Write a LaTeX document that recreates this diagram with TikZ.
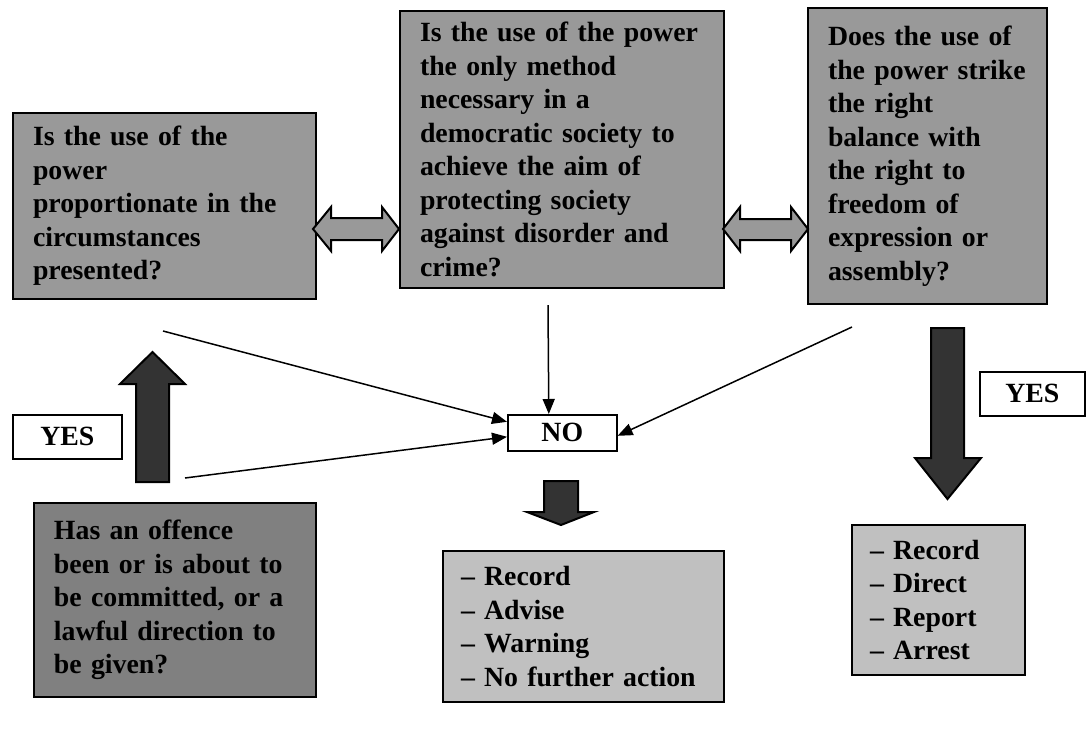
\documentclass[tikz,border=0pt]{standalone}
\usepackage{fontspec}
\setmainfont{Liberation Serif}
\usetikzlibrary{arrows.meta, positioning}
\definecolor{qgray}{RGB}{153,153,153}
\definecolor{askgray}{RGB}{128,128,128}
\definecolor{outgray}{RGB}{192,192,192}
\definecolor{fatgray}{RGB}{51,51,51}

\begin{document}
\begin{tikzpicture}[
  x=0.5pt, y=-0.5pt,
  every node/.style={font=\fontsize{13.9}{16.75}\selectfont\bfseries},
  qbox/.style={draw,line width=1pt,fill=qgray,anchor=north west,
    inner xsep=10pt,inner ysep=0pt,align=left},
  askbox/.style={qbox,fill=askgray},
  outbox/.style={qbox,fill=outgray,inner xsep=9pt},
  tagbox/.style={draw,line width=0.8pt,fill=white,anchor=north west,
    inner sep=0pt,align=center},
  fatarrow/.style={draw,line width=1pt,fill=fatgray,line join=miter},
  dblarrow/.style={draw,line width=1pt,fill=qgray,line join=miter},
  arr/.style={-{Triangle[length=7.5pt,width=6pt]},line width=0.75pt}
]
\useasboundingbox (0,0) rectangle (1087,729);

% question boxes
\node[qbox,minimum width=151.5pt,minimum height=93pt,text width=131.5pt]
  (prop) at (12,112)
  {Is the use of the\\power\\proportionate in the\\circumstances\\presented?};
\node[qbox,minimum width=162pt,minimum height=138.5pt,text width=142pt]
  (method) at (399,10)
  {Is the use of the power\\the only method\\necessary in a\\democratic society to\\achieve the aim of\\protecting society\\against disorder and\\crime?};
\node[qbox,minimum width=119.5pt,minimum height=148pt,text width=99.5pt]
  (balance) at (807,7)
  {Does the use of\\the power strike\\the right\\balance with\\the right to\\freedom of\\expression or\\assembly?};
\node[askbox,minimum width=141pt,minimum height=97pt,text width=121pt]
  (offence) at (33,502)
  {Has an offence\\been or is about to\\be committed, or a\\lawful direction to\\be given?};

% outcome boxes
\node[outbox,minimum width=140.5pt,minimum height=75.5pt,text width=122.5pt]
  (noact) at (442,550)
  {-- Record\\-- Advise\\-- Warning\\-- No further action};
\node[outbox,minimum width=86.5pt,minimum height=75pt,text width=68.5pt]
  (yesact) at (851,524)
  {-- Record\\-- Direct\\-- Report\\-- Arrest};

% answer tags
\node[tagbox,minimum width=54.5pt,minimum height=18pt] (no)     at (507,414) {NO};
\node[tagbox,minimum width=54.5pt,minimum height=22pt] (yesl)   at (12,414)  {YES};
\node[tagbox,minimum width=52.5pt,minimum height=22pt] (yesr)   at (979,371) {YES};

% double arrows between the questions
\draw[dblarrow] (313,229) -- (331,207) -- (331,218) -- (382,218) -- (382,207)
  -- (399,229) -- (382,251) -- (382,240) -- (331,240) -- (331,251) -- cycle;
\draw[dblarrow] (723,229) -- (740,207) -- (740,219) -- (791,219) -- (791,207)
  -- (808,229) -- (791,251) -- (791,240) -- (740,240) -- (740,251) -- cycle;

% fat arrows
\draw[fatarrow] (136,482) -- (136,384) -- (120,384) -- (152.5,352)
  -- (185,384) -- (169,384) -- (169,482) -- cycle;
\draw[fatarrow] (931,328) -- (931,458) -- (915,458) -- (947.5,499)
  -- (981,458) -- (964,458) -- (964,328) -- cycle;
\draw[fatarrow] (544,481) -- (544,512) -- (527,512) -- (561,525)
  -- (594,512) -- (578,512) -- (578,481) -- cycle;

% lines into NO
\coordinate (fromprop)    at (163,331);
\coordinate (fromoffence) at (185,478);
\coordinate (frommethod)  at (548,305);
\coordinate (frombalance) at (852,327);

\draw[arr] (fromprop)    -- ([yshift=5.5pt]no.west);
\draw[arr] (fromoffence) -- ([yshift=-2pt]no.west);
\draw[arr] (frommethod)  -- ([xshift=-6.75pt]no.north);
\draw[arr] (frombalance) -- ([yshift=-1.5pt]no.east);

\end{tikzpicture}
\end{document}
